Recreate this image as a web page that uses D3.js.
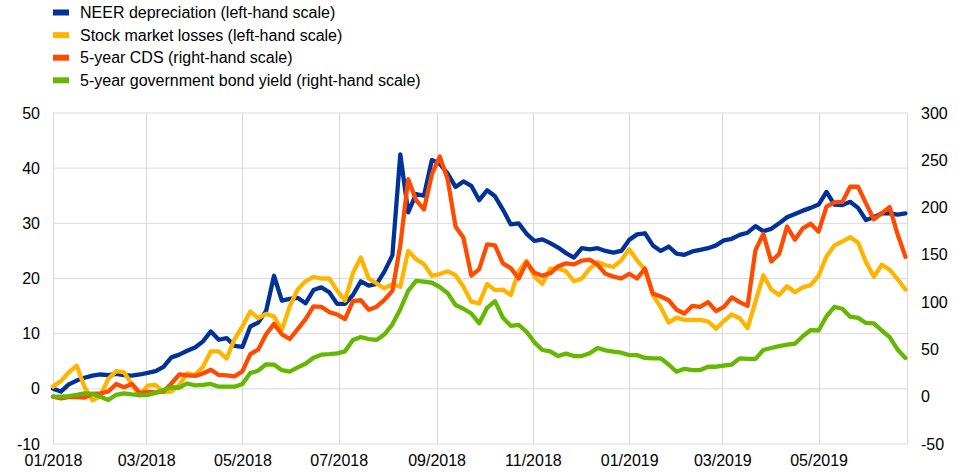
<!DOCTYPE html>
<html>
<head>
<meta charset="utf-8">
<script src="https://cdn.jsdelivr.net/npm/d3@7"></script>
<style>
  body { margin: 0; background: #fff; }
  svg text { font-family: "Liberation Sans", Arial, sans-serif; fill: #000; }
</style>
</head>
<body>
<div id="chart"></div>
<script>
// Dimensions
const width = 957;
const height = 472;
const margin = {top: 113, right: 50, bottom: 28, left: 53};

// Observations every 5 calendar days starting 1 Jan 2018
const START = new Date(2018, 0, 1);
const END = new Date(2018, 0, 1 + 541);
const STEP_DAYS = 5;

const seriesNames = [
    "NEER depreciation (left-hand scale)",
    "Stock market losses (left-hand scale)",
    "5-year CDS (right-hand scale)",
    "5-year government bond yield (right-hand scale)"
];
const seriesColours = ["#003299", "#ffb400", "#ff4b00", "#65b800"];

// Left-hand scale series
const neer = [
    0, -0.5, 0.8, 1.5, 2.0, 2.4, 2.6, 2.5, 2.7, 2.5,
    2.4, 2.6, 2.9, 3.2, 4.0, 5.7, 6.2, 6.9, 7.5, 8.6,
    10.4, 8.9, 9.2, 7.8, 7.6, 11.3, 12.0, 14.1, 20.5, 16.0,
    16.3, 16.5, 15.5, 17.9, 18.4, 17.5, 15.4, 15.4, 17.0, 19.5,
    18.7, 19.0, 21.3, 24.2, 42.5, 32.0, 35.3, 35.0, 41.5, 40.8,
    39.0, 36.6, 37.6, 36.8, 34.2, 36.0, 34.9, 32.5, 29.8, 30.0,
    28.1, 26.8, 27.1, 26.4, 25.6, 24.6, 23.8, 25.5, 25.3, 25.5,
    25.0, 24.7, 25.0, 27.0, 28.0, 28.2, 26.0, 25.0, 25.8, 24.5,
    24.3, 24.9, 25.2, 25.5, 26.0, 26.9, 27.2, 27.9, 28.3, 29.5,
    28.6, 29.0, 30.0, 31.1, 31.7, 32.3, 32.8, 33.4, 35.7, 33.4,
    33.3, 33.9, 32.8, 30.6, 31.1, 31.8, 31.8, 31.6, 31.8
];
const stocks = [
    0.4, 1.4, 3.0, 4.2, 0.3, -2.1, -1.3, 1.8, 3.2, 3.0,
    0.8, -1.2, 0.6, 0.7, -0.6, -0.5, 0.7, 2.8, 2.5, 4.0,
    6.8, 6.8, 5.5, 9.0, 11.3, 14.0, 12.8, 13.6, 13.1, 10.7,
    15.0, 18.0, 19.5, 20.3, 20.0, 20.0, 17.8, 16.0, 21.0, 23.8,
    20.0, 19.1, 18.2, 19.0, 18.5, 25.0, 23.5, 22.6, 20.5, 20.8,
    21.3, 20.6, 18.5, 15.8, 15.5, 19.0, 17.9, 18.0, 17.0, 21.3,
    23.2, 20.3, 19.0, 21.8, 21.8, 21.3, 19.5, 20.0, 21.8, 23.0,
    22.4, 22.1, 23.3, 25.3, 23.3, 21.6, 17.0, 14.8, 12.0, 12.9,
    12.5, 12.5, 12.5, 12.2, 10.9, 12.3, 13.5, 12.8, 11.0, 15.8,
    20.6, 18.0, 17.0, 18.6, 17.5, 18.4, 18.8, 20.5, 24.0, 26.0,
    26.7, 27.5, 26.5, 23.0, 20.3, 22.5, 21.6, 19.9, 18.0
];

// Right-hand scale series
const cds = [
    0, -1.8, -0.5, -0.5, -1.0, 3.0, 3.6, 5.5, 13.5, 10.0,
    13.5, 4.0, 5.0, 4.5, 5.5, 14.0, 23.5, 22.5, 22.0, 24.5,
    28.5, 23.0, 22.5, 21.5, 27.0, 45.0, 50.0, 66.0, 77.0, 66.0,
    61.0, 71.5, 82.0, 95.5, 95.0, 89.5, 87.0, 82.0, 101.0, 102.0,
    92.0, 95.2, 102.5, 112.0, 160.0, 230.0, 208.0, 198.0, 235.0, 254.0,
    230.0, 180.0, 168.0, 128.0, 135.0, 161.0, 160.0, 141.0, 136.0, 125.0,
    142.0, 131.0, 128.0, 130.5, 138.0, 141.0, 140.0, 144.0, 145.0, 139.5,
    130.0, 127.0, 125.0, 130.0, 125.0, 135.5, 109.0, 106.0, 102.0, 92.0,
    88.0, 96.0, 95.0, 100.0, 90.5, 95.0, 105.0, 100.0, 96.0, 155.0,
    172.0, 143.0, 151.0, 180.0, 166.0, 178.0, 183.0, 174.5, 200.9, 205.5,
    206.0, 222.0, 222.0, 204.5, 187.5, 194.0, 200.5, 172.0, 148.0
];
const bonds = [
    0, 0, 0.5, 2.0, 3.6, 3.0, 0, -3.5, 2.0, 3.6,
    2.5, 1.8, 2.0, 4.0, 7.1, 10.0, 9.5, 14.0, 12.0, 12.5,
    13.5, 10.6, 10.6, 10.6, 13.5, 25.0, 27.5, 34.3, 34.0, 28.0,
    26.5, 31.0, 34.8, 41.2, 44.5, 45.0, 45.9, 48.0, 60.0, 63.0,
    61.0, 60.0, 66.0, 76.5, 92.5, 112.0, 122.5, 121.6, 120.5, 116.0,
    109.5, 97.0, 93.0, 88.0, 77.6, 94.0, 101.0, 83.5, 75.0, 76.0,
    68.7, 57.5, 49.4, 48.0, 43.0, 45.5, 43.0, 43.0, 45.9, 51.5,
    49.0, 47.6, 46.5, 44.0, 44.0, 41.0, 40.6, 40.5, 34.0, 26.4,
    29.5, 28.2, 28.2, 31.7, 31.7, 33.0, 34.0, 40.6, 40.0, 40.0,
    49.4, 51.5, 53.5, 55.0, 56.0, 64.0, 70.5, 70.0, 85.0, 95.0,
    93.0, 84.6, 83.3, 78.0, 77.6, 70.0, 63.0, 50.0, 41.0
];

const leftTicks = [-10, 0, 10, 20, 30, 40, 50];
const rightTicks = [-50, 0, 50, 100, 150, 200, 250, 300];

const dates = d3.range(neer.length).map(i => d3.timeDay.offset(START, i * STEP_DAYS));

// Scales
const x = d3.scaleTime()
    .domain([START, END])
    .range([margin.left, width - margin.right]);

const yLeft = d3.scaleLinear()
    .domain([-10, 50])
    .range([height - margin.bottom, margin.top]);

const yRight = d3.scaleLinear()
    .domain([-50, 300])
    .range([height - margin.bottom, margin.top]);

const svg = d3.select("#chart").append("svg")
    .attr("width", width)
    .attr("height", height);

// Horizontal gridlines (left-hand scale)
svg.append("g")
    .selectAll("line")
    .data(leftTicks)
    .join("line")
    .attr("x1", margin.left)
    .attr("x2", width - margin.right)
    .attr("y1", d => yLeft(d))
    .attr("y2", d => yLeft(d))
    .attr("stroke", "#d9d9d9")
    .attr("stroke-width", 1);

// Vertical gridlines every two months + right border
const monthTicks = d3.timeMonth.every(2).range(START, END);
svg.append("g")
    .selectAll("line")
    .data(monthTicks.concat([END]))
    .join("line")
    .attr("x1", d => Math.round(x(d)) + 0.5)
    .attr("x2", d => Math.round(x(d)) + 0.5)
    .attr("y1", margin.top)
    .attr("y2", height - margin.bottom)
    .attr("stroke", "#d9d9d9")
    .attr("stroke-width", 1);

// Axes (plain hyphen for negative numbers, as in the original)
const plain = d => String(d);

const xAxis = d3.axisBottom(x)
    .tickValues(monthTicks)
    .tickFormat(d3.timeFormat("%m/%Y"))
    .tickSize(0)
    .tickPadding(11);

svg.append("g")
    .attr("transform", `translate(0,${height - margin.bottom})`)
    .call(xAxis)
    .call(g => g.select(".domain").remove())
    .selectAll("text")
    .style("font-size", "16px");

svg.append("g")
    .attr("transform", `translate(${margin.left},0)`)
    .call(d3.axisLeft(yLeft).tickValues(leftTicks).tickFormat(plain).tickSize(0).tickPadding(13))
    .call(g => g.select(".domain").remove())
    .selectAll("text")
    .style("font-size", "16px");

svg.append("g")
    .attr("transform", `translate(${width - margin.right},0)`)
    .call(d3.axisRight(yRight).tickValues(rightTicks).tickFormat(plain).tickSize(0).tickPadding(14))
    .call(g => g.select(".domain").remove())
    .selectAll("text")
    .style("font-size", "16px");

// Lines
const series = [
    {values: neer, scale: yLeft},
    {values: stocks, scale: yLeft},
    {values: cds, scale: yRight},
    {values: bonds, scale: yRight}
];

series.forEach((s, k) => {
    const line = d3.line()
        .x((d, i) => x(dates[i]))
        .y(d => s.scale(d));
    svg.append("path")
        .datum(s.values)
        .attr("fill", "none")
        .attr("stroke", seriesColours[k])
        .attr("stroke-width", 4.3)
        .attr("stroke-linejoin", "round")
        .attr("stroke-linecap", "round")
        .attr("d", line);
});

// Legend
const legend = svg.append("g")
    .selectAll("g")
    .data(seriesNames)
    .join("g")
    .attr("transform", (d, i) => `translate(53,${12.5 + i * 22.6})`);

legend.append("rect")
    .attr("x", 0)
    .attr("y", -3)
    .attr("width", 16)
    .attr("height", 6)
    .attr("fill", (d, i) => seriesColours[i]);

legend.append("text")
    .attr("x", 27)
    .attr("y", 0)
    .attr("dy", "0.35em")
    .style("font-size", "16px")
    .text(d => d);
</script>
</body>
</html>
